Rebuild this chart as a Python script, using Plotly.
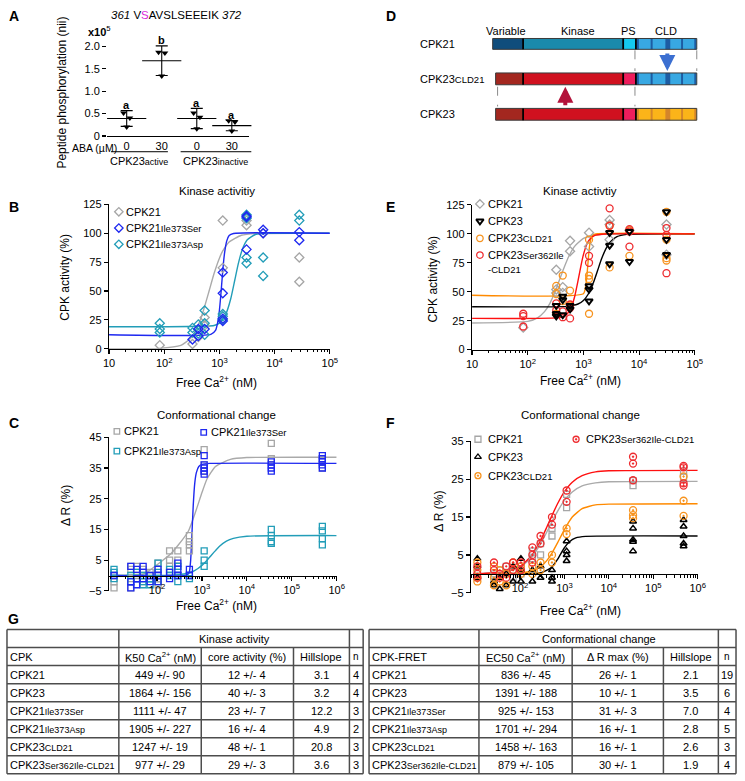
import math
import plotly.graph_objects as go

W, H = 745, 781
FONT = "Liberation Sans, Arial, Helvetica, sans-serif"

GRAY = "#a6a6a6"
BLUE = "#1e28f0"
TEAL = "#229db8"
ORANGE = "#f7931e"
RED = "#ee2b2f"
BLACK = "#000000"
RULE = "#4d4d4d"

# ---------------- data ----------------
# A: peptide phosphorylation (x10^5)
A_DOSE = ["0", "30", "0", "30"]
A_POINTS = [[0.51, 0.40, 0.20], [1.87, 1.85, 1.34], [0.51, 0.42, 0.16], [0.34, 0.31, 0.11]]
A_MEAN = [0.39, 1.68, 0.39, 0.23]
A_SD = [0.175, 0.33, 0.225, 0.115]
A_LETTERS = ["a", "b", "a", "a"]
A_JITTER = [-0.09, 0.09, 0.0]

# B: kinase activity, CPK21 variants (free Ca2+ nM -> %)
B_CONC = [83, 325, 415, 540, 1150, 3100, 6200, 28000]
B_CPK21 = [[3], [4], [10], [27, 20], [111, 70], [111, 107], [100], [79, 58]]
B_SER = [[], [8], [11, 17], [17], [66, 48, 24, 26], [115, 114, 86], [103, 100], [101, 94]]
B_ASP = [[22, 17, 14], [18, 14], [21, 13], [33, 22, 12], [30, 28, 25], [116, 113, 79, 74], [79, 63], [116, 111]]
B_FIT_CPK21_X = [10, 80, 200, 300, 400, 500, 650, 800, 1000, 1150, 1500, 2500, 5000, 100000]
B_FIT_CPK21_Y = [0, 0.2, 2.8, 8.9, 18.9, 31.3, 50, 65.1, 78.4, 84.7, 92.5, 98.3, 99.8, 100]
B_FIT_SER_X = [10, 700, 850, 950, 1000, 1050, 1100, 1150, 1200, 1250, 1350, 1500, 1800, 100000]
B_FIT_SER_Y = [12, 12.4, 15.8, 25, 33.3, 44, 56, 67.5, 77.1, 84, 93, 98, 99.8, 100]
B_FIT_ASP_X = [10, 800, 1000, 1300, 1600, 1900, 2200, 2600, 3200, 4500, 8000, 100000]
B_FIT_ASP_Y = [19, 20.1, 22.1, 29.6, 43, 59.5, 73.7, 86, 94.4, 98.9, 99.9, 100]

# E: kinase activity, CPK23 chimeras
E_CONC = [83, 325, 425, 575, 1260, 2950, 6700, 31000]
E_CPK21 = [[19], [69, 52, 49], [54, 49], [94, 85], [101, 89], [112, 108, 95], [103], [108, 82]]
E_CPK23 = [[], [38, 29, 31], [46, 43, 30], [35, 38], [55, 52, 42], [101, 90, 74], [102, 76], [119, 95, 82]]
E_CLD21 = [[], [55, 48, 31], [64, 42], [51, 38], [95, 64, 61, 31], [107, 71], [103, 81], [119, 95, 79, 77]]
E_SER = [[31, 29, 20], [34, 40], [33, 28], [39, 27, 36], [81, 75], [122, 107], [104, 102, 89], [105, 99, 66]]
E_FIT_CPK21_X = [10, 100, 150, 200, 250, 300, 380, 450, 550, 700, 1000, 1500, 3000, 100000]
E_FIT_CPK21_Y = [23, 24.4, 27.5, 32.8, 40, 48.4, 61.5, 71, 80.9, 89.4, 96, 98.8, 99.8, 100]
E_FIT_CPK23_X = [10, 500, 800, 1000, 1200, 1500, 1800, 2100, 2500, 3000, 4000, 6000, 100000]
E_FIT_CPK23_Y = [37, 37.4, 39.4, 42.5, 47.4, 57.5, 68.5, 78, 86.6, 92.8, 97.5, 99.5, 100]
E_FIT_CLD21_X = [10, 1000, 1100, 1150, 1200, 1250, 1300, 1400, 1600, 100000]
E_FIT_CLD21_Y = [47, 48.3, 55, 63, 73.5, 83.7, 91, 97.7, 99.7, 100]
E_FIT_SER_X = [10, 400, 500, 600, 700, 800, 900, 1000, 1150, 1300, 1600, 2500, 100000]
E_FIT_SER_Y = [27, 27.9, 30.3, 36.1, 46.3, 59.5, 72.2, 82, 91, 95.3, 98.6, 99.9, 100]

# C: conformational change, CPK21 variants (delta R %)
C_CONC = [11, 26, 35, 49, 70, 105, 190, 290, 525, 1120, 35000, 480000]
C_CPK21 = [[0, -2, -4], [2, -1, -4, 3], [3, 0], [2, -2], [1, 0, -1], [4, 2, -1, -3], [8, 5, 3, 1],
           [8, 5, 3], [13, 11, 10, 8], [41, 36, 34], [43, 38], [38, 35]]
C_SER = [[0], [3, -2, -4], [2, -1, -3], [3, 1, -1], [0, -2], [2, 0, -2], [1, -1], [4, 2, 0], [2, 0],
         [39, 36, 35, 34, 33], [37, 36, 35, 34], [39, 38, 37, 36, 35]]
C_ASP = [[2, 1, -1], [0, -2], [1, -1], [0, -2, -3], [-1, -3], [4, 1, -2], [2, 0], [3, 0, -2], [0, -1],
         [8, 5, 3], [15, 13, 11, 10.5], [16, 14.5, 12, 10]]
C_FIT_CPK21_X = [9, 50, 70, 100, 200, 300, 500, 730, 1000, 1300, 2000, 4300, 10000, 1000000]
C_FIT_CPK21_Y = [0, 0.5, 1.8, 3.5, 7, 10, 14.5, 21, 27, 31.5, 35.5, 37.8, 38.4, 38.5]
C_FIT_SER_X = [9, 450, 520, 560, 600, 640, 690, 750, 850, 1000, 1500, 1000000]
C_FIT_SER_Y = [0, 0.1, 1, 5, 14, 23, 30, 33.5, 35.5, 36.2, 36.5, 36.5]
C_FIT_ASP_X = [9, 200, 400, 600, 800, 1000, 1300, 1600, 2000, 2500, 3500, 5000, 10000, 1000000]
C_FIT_ASP_Y = [0, 0.1, 0.5, 1.2, 2.2, 3.3, 5.0, 6.5, 8.1, 9.6, 11.2, 12.1, 12.8, 13]

# F: conformational change, CPK23 chimeras
F_CONC = [11, 26, 35, 49, 70, 105, 190, 290, 525, 1120, 35000, 480000]
F_CPK21 = [[1, -1], [0, -2], [1], [2, 0], [1, -1], [2, 0], [6, 4], [8, 5], [12, 10], [21, 17.5],
           [24.6, 23.3], [27.2, 25.5]]
F_CPK23 = [[4, 2, -1], [-2, -3], [-1, -4], [-3, 0], [2, -2], [4, 1, -2], [-2, 1], [2, -1], [1, -1, -2],
           [8.6, 6, 3.4, 5], [13.8, 12, 9, 8.5, 6], [14.2, 12.5, 10, 8, 7.3]]
F_CLD21 = [[3, 1, -1, -2], [2, -1, -3], [1, -2], [0, -3], [3, 1], [2, 0], [2, 0], [3, 1], [5, 3],
           [12, 10.5], [16.8, 15.5, 14.7], [25.7, 19.3, 15.3]]
F_SER = [[2, 0, -1], [1, 3], [0, -1], [2, -1], [3, 1], [3, 1], [7, 5, 3], [10, 8], [15, 13], [22, 19],
         [30.9, 29.1, 24.7], [28.5, 28.1, 23.9, 23.3]]
F_FIT_X = [9, 50, 100, 175, 290, 400, 525, 700, 1000, 1500, 2500, 5000, 10000, 1000000]
F_FIT_SER_Y = [0, 0.6, 2.0, 4.6, 8.8, 12.3, 15.4, 18.5, 21.7, 24.2, 25.9, 26.9, 27.2, 27.3]
F_FIT_CPK21_Y = [0, 0.6, 1.8, 4.1, 7.9, 11, 13.8, 16.5, 19.4, 21.6, 23.2, 24, 24.3, 24.4]
F_FIT_CLD21_X = [9, 100, 200, 300, 400, 525, 700, 1000, 1500, 2500, 5000, 10000, 1000000]
F_FIT_CLD21_Y = [0, 0.2, 0.9, 2.0, 3.5, 5.5, 8.2, 11.7, 15, 17.2, 18.2, 18.4, 18.5]
F_FIT_CPK23_X = [9, 300, 500, 700, 800, 1000, 1300, 1800, 3000, 1000000]
F_FIT_CPK23_Y = [0, 0.3, 1.6, 3.8, 5, 6.9, 8.5, 9.5, 9.9, 10]

# G: table
T_CPK = [("CPK21", ""), ("CPK23", ""), ("CPK21", "Ile373Ser"), ("CPK21", "Ile373Asp"),
         ("CPK23", "CLD21"), ("CPK23", "Ser362Ile-CLD21")]
T_K50 = ["449 +/- 90", "1864 +/- 156", "1111 +/- 47", "1905 +/- 227", "1247 +/- 19", "977 +/- 29"]
T_CORE = ["12 +/- 4", "40 +/- 3", "23 +/- 7", "16 +/- 4", "48 +/- 1", "29 +/- 3"]
T_HILL_K = ["3.1", "3.2", "12.2", "4.9", "20.8", "3.6"]
T_N_K = ["4", "4", "3", "2", "3", "3"]
T_EC50 = ["836 +/- 45", "1391 +/- 188", "925 +/- 153", "1701 +/- 294", "1458 +/- 163", "879 +/- 105"]
T_DR = ["26 +/- 1", "10 +/- 1", "31 +/- 3", "16 +/- 1", "16 +/- 1", "30 +/- 1"]
T_HILL_C = ["2.1", "3.5", "7.0", "2.8", "2.6", "1.9"]
T_N_C = ["19", "6", "4", "5", "3", "4"]

# ---------------- helpers ----------------
annotations, shapes, traces = [], [], []


def sub(base, small, size=9.5):
    return base + (f"<span style='font-size:{size}px'>{small}</span>" if small else "")


def note(x, y, text, size=11, xanchor="center", yanchor="middle", angle=0, color="black"):
    annotations.append(dict(x=x / W, y=1 - y / H, xref="paper", yref="paper", text=text,
                            showarrow=False, xanchor=xanchor, yanchor=yanchor, textangle=angle,
                            font=dict(family=FONT, size=size, color=color)))


def seg(x0, y0, x1, y1, color="black", width=1, dash="solid"):
    shapes.append(dict(type="line", xref="paper", yref="paper", x0=x0 / W, y0=1 - y0 / H,
                       x1=x1 / W, y1=1 - y1 / H, line=dict(color=color, width=width, dash=dash)))


def box(x0, y0, x1, y1, fill, line_color=None, width=0):
    shapes.append(dict(type="rect", xref="paper", yref="paper", x0=x0 / W, y0=1 - y1 / H,
                       x1=x1 / W, y1=1 - y0 / H, fillcolor=fill,
                       line=dict(color=line_color or fill, width=width)))


def flat(conc, reps):
    xs, ys = [], []
    for c, r in zip(conc, reps):
        xs += [c] * len(r)
        ys += r
    return xs, ys


def points(conc, reps, xa, ya, color, symbol, size=7, lw=1.3):
    xs, ys = flat(conc, reps)
    traces.append(go.Scatter(x=xs, y=ys, xaxis=xa, yaxis=ya, mode="markers", cliponaxis=False,
                             marker=dict(symbol=symbol, size=size, color=color,
                                         line=dict(color=color, width=lw)), hoverinfo="skip"))


def curve(xs, ys, xa, ya, color, width=1.4):
    traces.append(go.Scatter(x=xs, y=ys, xaxis=xa, yaxis=ya, mode="lines",
                             line=dict(color=color, width=width, shape="spline", smoothing=0.5),
                             hoverinfo="skip"))


def glyph(x, y, color, symbol, size=7, lw=1.3):
    traces.append(go.Scatter(x=[x], y=[y], xaxis="x6", yaxis="y6", mode="markers", cliponaxis=False,
                             marker=dict(symbol=symbol, size=size, color=color,
                                         line=dict(color=color, width=lw)), hoverinfo="skip"))


def xdom(a, b):
    return [a / W, b / W]


def ydom(top, bot):
    return [1 - bot / H, 1 - top / H]


AXIS = dict(showline=True, linecolor="black", linewidth=1.3, ticks="outside", ticklen=4,
            tickwidth=1.2, tickcolor="black", showgrid=False, zeroline=False, fixedrange=True,
            tickfont=dict(family=FONT, size=11, color="black"))


def log_axis(dom, rng, vals, anchor, **kw):
    lo, hi = rng
    minor = [m * 10 ** k for k in range(0, 7) for m in range(2, 10) if lo <= k + math.log10(m) <= hi]
    d = dict(AXIS, type="log", domain=dom, range=rng, anchor=anchor, tickmode="array",
             tickvals=vals,
             ticktext=["10" if v == 10 else f"10<sup>{len(str(v)) - 1}</sup>" for v in vals],
             minor=dict(tickmode="array", tickvals=minor, ticks="outside", ticklen=2.5,
                        tickwidth=1, tickcolor="black"))
    d.update(kw)
    return d


# ---------------- panel A ----------------
for g, pts in enumerate(A_POINTS):
    traces.append(go.Scatter(x=[g + 1 + A_JITTER[k] for k in range(len(pts))], y=pts, mode="markers",
                             xaxis="x", yaxis="y", cliponaxis=False,
                             marker=dict(symbol="triangle-down", size=6, color=BLACK), hoverinfo="skip"))
traces.append(go.Scatter(x=[1, 2, 3, 4], y=A_MEAN, mode="markers", xaxis="x", yaxis="y", cliponaxis=False,
                         marker=dict(symbol="line-ew", size=28, color=BLACK, line=dict(color=BLACK, width=1.1)),
                         error_y=dict(type="data", array=A_SD, visible=True, width=6, thickness=1.1, color=BLACK),
                         hoverinfo="skip"))
for g, letter in enumerate(A_LETTERS):
    annotations.append(dict(x=g + 1, y=A_MEAN[g] + A_SD[g] + 0.13, xref="x", yref="y", text=f"<b>{letter}</b>",
                            showarrow=False, font=dict(family=FONT, size=11, color="black")))

note(8, 10, "<b>A</b>", size=14)
note(174, 9, "<i>361</i> V<span style='color:#d92bd9'>S</span>AVSLSEEEIK <i>372</i>", size=11.5)
note(95, 25, "<b>x10</b><sup>5</sup>", size=11)
note(57, 88, "Peptide phosphorylation (nii)", size=12, angle=-90)
note(115, 144.5, "ABA (µM)", size=10.5, xanchor="right")
seg(107, 148, 165, 148, width=1)
seg(178, 148, 250, 148, width=1)
note(136, 157, sub("CPK23", "active", 9), size=11)
note(214, 157, sub("CPK23", "inactive", 9), size=11)

# ---------------- panel D ----------------
D_NAMES = [("CPK21", ""), ("CPK23", "CLD21"), ("CPK23", "")]
D_PARTS = ["Variable", "Kinase", "PS", "CLD"]
D_FILL = [["#0f4d7c", "#1a8aab", "#14c9ef", "#38a8e2"],
          ["#a3271f", "#d0111f", "#ee1d5c", "#38a8e2"],
          ["#a3271f", "#d0111f", "#ee1d5c", "#fbb419"]]
D_STRIPE = ["#1d5ca3", "#1d5ca3", "#d4852a"]
D_ROWS = [(33, 44), (68, 80), (104, 116)]
D_LEFT = [496, 499, 499]
D_EDGES = [527, 629, 642, 704]
D_STRIPES = [(643, 645), (657, 659), (672, 677), (688, 690), (701.5, 703.5)]

note(392, 10, "<b>D</b>", size=14)
for name, xc in zip(D_PARTS, [510, 583, 634, 673]):
    note(xc, 25, name, size=11)
for r, (y0, y1) in enumerate(D_ROWS):
    note(420, (y0 + y1) / 2, sub(*D_NAMES[r]), size=11, xanchor="left")
    xs = [D_LEFT[r]] + D_EDGES
    for k in range(4):
        box(xs[k], y0, xs[k + 1], y1, D_FILL[r][k])
    for a, b in D_STRIPES:
        box(a, y0, b, y1, D_STRIPE[r])
    box(xs[0], y0, xs[-1], y1, "rgba(0,0,0,0)", "#3a3a3a", 1)
    for e in D_EDGES[:3]:
        seg(e, y0, e, y1, "black", 1.8)
for x0, y0, x1, y1 in [(641, 45, 641, 66), (704, 45, 704, 66), (501, 82, 501, 102), (641, 82, 641, 102)]:
    seg(x0, y0, x1, y1, "#8a8a8a", 1, "dash")
annotations.append(dict(x=674 / W, y=1 - 66 / H, xref="paper", yref="paper", text="", showarrow=True,
                        ax=0, ay=-19, arrowhead=2, arrowsize=0.8, arrowwidth=4, arrowcolor="#3b6fd1"))
annotations.append(dict(x=570 / W, y=1 - 82 / H, xref="paper", yref="paper", text="", showarrow=True,
                        ax=0, ay=20, arrowhead=2, arrowsize=0.8, arrowwidth=4, arrowcolor="#b3123a"))

# ---------------- panel B ----------------
curve(B_FIT_CPK21_X, B_FIT_CPK21_Y, "x2", "y2", "#aaaaaa")
curve(B_FIT_ASP_X, B_FIT_ASP_Y, "x2", "y2", TEAL)
curve(B_FIT_SER_X, B_FIT_SER_Y, "x2", "y2", BLUE)
points(B_CONC, B_CPK21, "x2", "y2", GRAY, "diamond-open")
points(B_CONC, B_ASP, "x2", "y2", TEAL, "diamond-open")
points(B_CONC, B_SER, "x2", "y2", BLUE, "diamond-open")

note(8, 204, "<b>B</b>", size=14)
note(215, 188, "Kinase activitiy", size=11.5)
note(60, 275, "CPK activity (%)", size=12, angle=-90)
note(215, 382, "Free Ca<sup>2+</sup> (nM)", size=12)
for (base, small, color), y in zip([("CPK21", "", GRAY), ("CPK21", "Ile373Ser", BLUE),
                                    ("CPK21", "Ile373Asp", TEAL)], [209, 225.5, 242]):
    glyph(115, y, color, "diamond-open", 6.5)
    note(120, y, sub(base, small), size=11, xanchor="left")

# ---------------- panel E ----------------
curve(E_FIT_CPK21_X, E_FIT_CPK21_Y, "x4", "y4", "#aaaaaa")
curve(E_FIT_CPK23_X, E_FIT_CPK23_Y, "x4", "y4", BLACK)
curve(E_FIT_CLD21_X, E_FIT_CLD21_Y, "x4", "y4", "#ff8a00")
curve(E_FIT_SER_X, E_FIT_SER_Y, "x4", "y4", "#ff1010")
points(E_CONC, E_CPK21, "x4", "y4", GRAY, "diamond-open")
points(E_CONC, E_CLD21, "x4", "y4", ORANGE, "circle-open")
points(E_CONC, E_SER, "x4", "y4", RED, "circle-open")
points(E_CONC, E_CPK23, "x4", "y4", BLACK, "triangle-down-open", 6.5, 2)

note(392, 204, "<b>E</b>", size=14)
note(585, 188, "Kinase activtiy", size=11.5)
note(435, 277, "CPK activity (%)", size=12, angle=-90)
note(585, 380, "Free Ca<sup>2+</sup> (nM)", size=12)
for (base, small, color, sym, lw), y in zip([("CPK21", "", GRAY, "diamond-open", 1.3),
                                             ("CPK23", "", BLACK, "triangle-down-open", 2),
                                             ("CPK23", "CLD21", ORANGE, "circle-open", 1.3),
                                             ("CPK23", "Ser362Ile", RED, "circle-open", 1.3)],
                                            [201, 218.5, 236, 253]):
    glyph(483, y, color, sym, 6.5, lw)
    note(489, y, sub(base, small), size=11, xanchor="left")
note(489, 267.5, "-CLD21", size=9.5, xanchor="left")

# ---------------- panel C ----------------
curve(C_FIT_CPK21_X, C_FIT_CPK21_Y, "x3", "y3", "#aaaaaa")
curve(C_FIT_ASP_X, C_FIT_ASP_Y, "x3", "y3", TEAL)
curve(C_FIT_SER_X, C_FIT_SER_Y, "x3", "y3", BLUE)
points(C_CONC, C_CPK21, "x3", "y3", GRAY, "square-open", 6)
points(C_CONC, C_ASP, "x3", "y3", TEAL, "square-open", 6)
points(C_CONC, C_SER, "x3", "y3", BLUE, "square-open", 6)

note(8, 423, "<b>C</b>", size=14)
note(215, 415, "Conformational change", size=11.5)
note(61, 507, "Δ R (%)", size=12, angle=-90)
note(215, 608, "Free Ca<sup>2+</sup> (nM)", size=12)
for (base, small, color), (x, y) in zip([("CPK21", "", GRAY), ("CPK21", "Ile373Ser", BLUE),
                                         ("CPK21", "Ile373Asp", TEAL)],
                                        [(113, 432), (201.5, 433), (113, 452)]):
    glyph(x, y, color, "square-open", 5.5)
    note(x + 5, y, sub(base, small), size=11, xanchor="left")

# ---------------- panel F ----------------
curve(F_FIT_X, F_FIT_CPK21_Y, "x5", "y5", "#aaaaaa")
curve(F_FIT_CPK23_X, F_FIT_CPK23_Y, "x5", "y5", BLACK)
curve(F_FIT_CLD21_X, F_FIT_CLD21_Y, "x5", "y5", "#ff8a00")
curve(F_FIT_X, F_FIT_SER_Y, "x5", "y5", "#ff1010")
points(F_CONC, F_CPK21, "x5", "y5", GRAY, "square-open", 6)
points(F_CONC, F_CPK23, "x5", "y5", BLACK, "triangle-up-open", 6, 1.5)
points(F_CONC, F_CLD21, "x5", "y5", ORANGE, "circle-open-dot", 7)
points(F_CONC, F_SER, "x5", "y5", RED, "circle-open-dot", 7)

note(392, 423, "<b>F</b>", size=14)
note(585, 415, "Conformational change", size=11.5)
note(441, 513, "Δ R (%)", size=12, angle=-90)
note(585, 613, "Free Ca<sup>2+</sup> (nM)", size=12)
for (base, small, color, sym), (x, y) in zip([("CPK21", "", GRAY, "square-open"),
                                              ("CPK23", "", BLACK, "triangle-up-open"),
                                              ("CPK23", "CLD21", ORANGE, "circle-open-dot"),
                                              ("CPK23", "Ser362Ile-CLD21", RED, "circle-open-dot")],
                                             [(481, 440), (481, 458), (481, 477), (581, 440)]):
    glyph(x, y, color, sym, 6)
    note(x + 8, y, sub(base, small), size=11, xanchor="left")

# ---------------- panel G (table) ----------------
TOP, ROW_H = 633.3, 18.3
L_COLS = [1, 115, 199, 293, 350, 364]
R_COLS = [370, 482, 577, 670, 726, 744]


def draw_table(cols, title, header, columns):
    n_rows = 2 + len(columns[0])
    bottom = TOP + n_rows * ROW_H
    for i in range(n_rows + 1):
        seg(cols[0], TOP + i * ROW_H, cols[-1], TOP + i * ROW_H, RULE, 1.5)
    for j, x in enumerate(cols):
        y0 = TOP if j in (0, 1, 4, 5) else TOP + ROW_H
        seg(x, y0, x, bottom, RULE, 1.5)
    note((cols[1] + cols[4]) / 2, TOP + ROW_H / 2, title, size=11)
    rows = [header] + [list(r) for r in zip(*columns)]
    for i, row in enumerate(rows):
        yc = TOP + (i + 1.5) * ROW_H
        for j, txt in enumerate(row):
            if j == 0:
                note(cols[0] + 1, yc, txt, size=11, xanchor="left")
            else:
                note((cols[j] + cols[j + 1]) / 2, yc, txt, size=10 if (i == 0 and j == 4) else 11)


names = [sub(b, s, 9) for b, s in T_CPK]
draw_table(L_COLS, "Kinase activity",
           ["CPK", "K50 Ca<sup>2+</sup> (nM)", "core activity (%)", "Hillslope", "n"],
           [names, T_K50, T_CORE, T_HILL_K, T_N_K])
draw_table(R_COLS, "Conformational change",
           ["CPK-FRET", "EC50 Ca<sup>2+</sup> (nM)", "Δ R max (%)", "Hillslope", "n"],
           [names, T_EC50, T_DR, T_HILL_C, T_N_C])
note(8, 623, "<b>G</b>", size=14)

# ---------------- layout ----------------
c_dom = ydom(438, 594)
f_dom = ydom(442, 596)

fig = go.Figure(data=traces)
fig.update_layout(
    width=W, height=H, margin=dict(l=0, r=0, t=0, b=0),
    paper_bgcolor="white", plot_bgcolor="rgba(0,0,0,0)", showlegend=False,
    font=dict(family=FONT, size=11, color="black"),
    xaxis=dict(AXIS, domain=xdom(103, 248), range=[0.44, 4.5], anchor="y", tickmode="array",
               tickvals=[1, 2, 3, 4], ticktext=A_DOSE, ticks=""),
    yaxis=dict(AXIS, domain=ydom(132 - 2.2 * 45.5, 132), range=[0, 2.2], anchor="x", showline=False,
               tickmode="array", tickvals=[0, 0.5, 1, 1.5, 2], ticktext=["0", "0.5", "1.0", "1.5", "2.0"]),
    xaxis2=log_axis(xdom(105, 330), [1, 5], [10, 100, 1000, 10000, 100000], "y2"),
    yaxis2=dict(AXIS, domain=ydom(201.5, 348), range=[0, 125], anchor="x2", tickmode="array",
                tickvals=[0, 25, 50, 75, 100, 125]),
    xaxis3=log_axis(xdom(105, 337), [0.93, 6.0], [100, 1000, 10000, 100000, 1000000], "free",
                    position=c_dom[0] + 0.1 * (c_dom[1] - c_dom[0])),
    yaxis3=dict(AXIS, domain=c_dom, range=[-5, 45], anchor="x3", tickmode="array",
                tickvals=[-5, 5, 15, 25, 35, 45]),
    xaxis4=log_axis(xdom(475, 702), [1, 5], [10, 100, 1000, 10000, 100000], "y4"),
    yaxis4=dict(AXIS, domain=ydom(202, 349), range=[0, 125], anchor="x4", tickmode="array",
                tickvals=[0, 25, 50, 75, 100, 125]),
    xaxis5=log_axis(xdom(474, 705), [0.9, 6.0], [100, 1000, 10000, 100000, 1000000], "free",
                    position=f_dom[0] + 0.125 * (f_dom[1] - f_dom[0])),
    yaxis5=dict(AXIS, domain=f_dom, range=[-5, 35], anchor="x5", tickmode="array",
                tickvals=[-5, 5, 15, 25, 35]),
    xaxis6=dict(domain=[0, 1], range=[0, W], anchor="y6", visible=False, fixedrange=True),
    yaxis6=dict(domain=[0, 1], range=[H, 0], anchor="x6", visible=False, fixedrange=True),
    annotations=annotations,
    shapes=shapes,
)

# drop the default page margin so the 745x781 figure fills the window exactly
fig.write_html("out.html", config={"displayModeBar": False, "staticPlot": True},
               post_script="document.body.style.margin='0';document.body.style.overflow='hidden';")
